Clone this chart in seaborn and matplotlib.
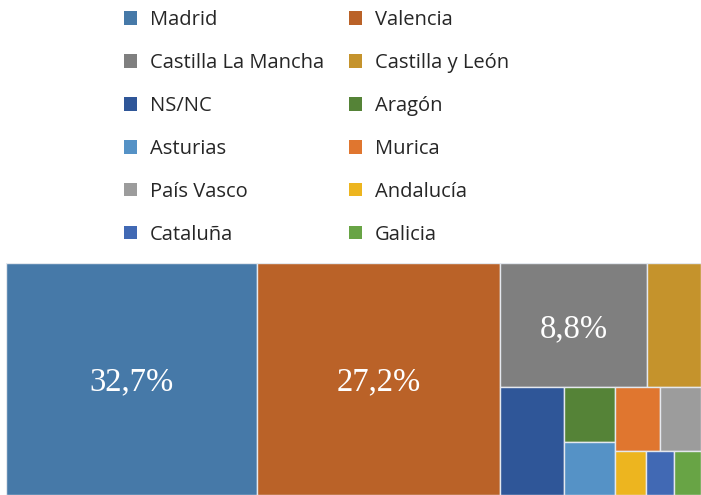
import seaborn as sns
import matplotlib.pyplot as plt
from matplotlib.patches import Patch

# Data
regions = ["Madrid", "Valencia", "Castilla La Mancha", "Castilla y León", "NS/NC",
           "Aragón", "Asturias", "Murica", "País Vasco", "Andalucía", "Cataluña", "Galicia"]
# area weights
values = [36.05, 35.04, 11.36, 4.15, 4.25, 1.72, 1.69, 1.77, 1.61, 0.85, 0.77, 0.74]
labels = ["32,7%", "27,2%", "8,8%", "", "", "", "", "", "", "", "", ""]
colors = ["#4679A8", "#BA6228", "#7F7F7F", "#C5932C", "#2F5698", "#558337",
          "#5592C6", "#E0762F", "#9C9C9C", "#EDB51F", "#4169B4", "#68A445"]

# nesting of the tiles: 'h' splits left-right, 'v' splits top-bottom
tree = ("h", [0, 1, ("v", [("h", [2, 3]),
                           ("h", [4, ("v", [5, 6]),
                                  ("v", [("h", [7, 8]), ("h", [9, 10, 11])])])])])


def weight(node):
    if isinstance(node, int):
        return values[node]
    return sum(weight(k) for k in node[1])


def layout(node, x, y, w, h, out):
    if isinstance(node, int):
        out[node] = (x, y, w, h)
        return
    d, kids = node
    tot = weight(node)
    pos = 0.0
    for k in kids:
        f = weight(k) / tot
        if d == "h":
            layout(k, x + pos * w, y, f * w, h, out)
        else:
            layout(k, x, y + pos * h, w, f * h, out)
        pos += f


rects = {}
layout(tree, 0.0, 0.0, 1.0, 1.0, rects)

sns.set_theme(style="white")
plt.rcParams["font.family"] = ["Open Sans", "DejaVu Sans"]

fig = plt.figure(figsize=(7.01, 4.95), dpi=100)
ax = fig.add_axes([6 / 701, 0, 695 / 701, 232 / 495])

for i in range(len(regions)):
    x, y, w, h = rects[i]
    ax.bar(x, h, width=w, bottom=y, align="edge", color=colors[i],
           edgecolor="#e4e8ee", linewidth=1.0)
    if labels[i]:
        ax.text(x + w / 2, y + h / 2, labels[i], ha="center", va="center_baseline",
                color="white", fontsize=23.5, family="Liberation Serif")

ax.set_xlim(0, 1)
ax.set_ylim(1, 0)
ax.axis("off")

# legend in two columns, read row by row
handles = [Patch(facecolor=c, edgecolor="none") for c in colors]
for col, x0 in [(0, 124), (1, 349)]:
    idx = list(range(col, 12, 2))
    leg = fig.legend([handles[i] for i in idx], [regions[i] for i in idx],
                     loc="upper left", bbox_to_anchor=(x0 / 701, 1 - 10 / 495),
                     frameon=False, fontsize=14.5, labelspacing=1.14,
                     borderpad=0, borderaxespad=0,
                     handlelength=0.65, handleheight=0.65, handletextpad=0.65,
                     labelcolor="#262626")

fig.savefig("out.png", dpi=100)
